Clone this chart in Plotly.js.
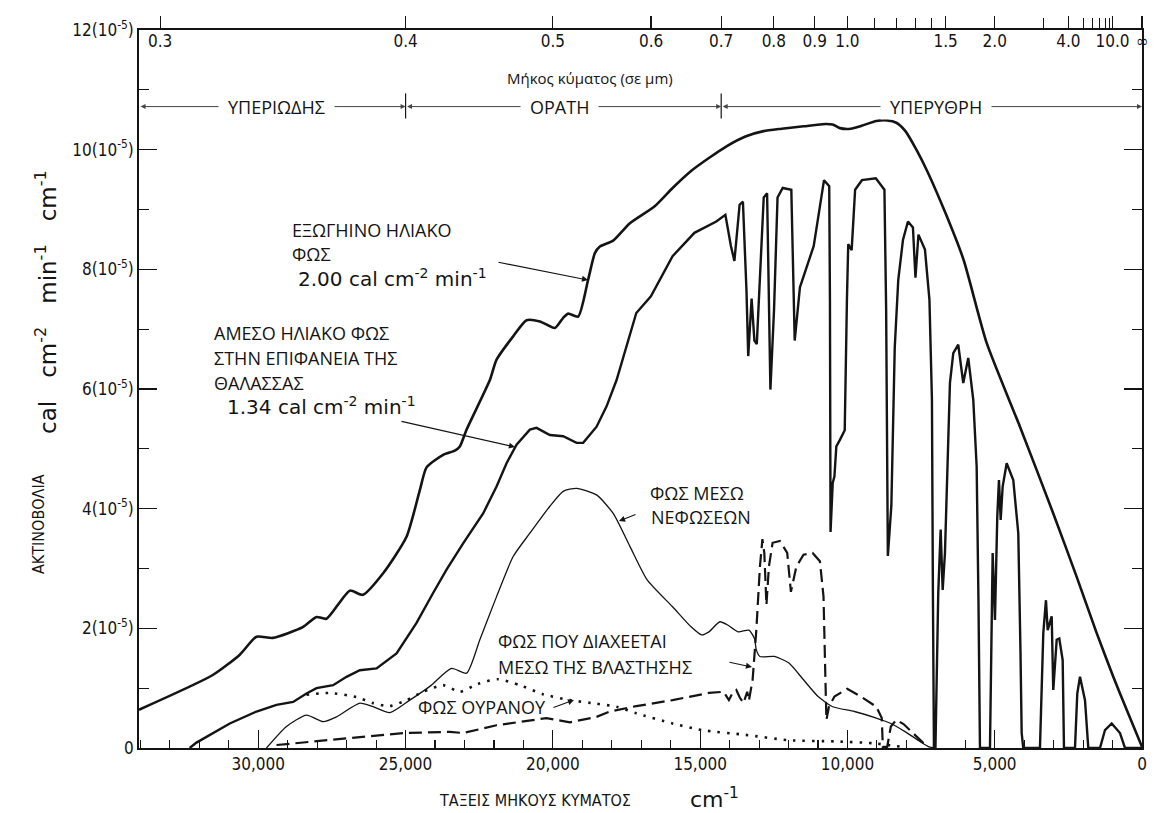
<!DOCTYPE html>
<html>
<head>
<meta charset="utf-8">
<script src="https://cdn.plot.ly/plotly-3.0.1.min.js"></script>
<style>
html,body{margin:0;padding:0;background:#fff}
#chart{width:1166px;height:813px}
</style>
</head>
<body>
<div id="chart"></div>
<script>
// wavenumber (cm^-1) and spectral irradiance in units of 1e-5 cal cm^-2 min^-1 cm^-1
const extraWn = [34050,31545,30628,30061,29508,28489,28024,27684,26893,26452,25762,24968,24516,24289,23725,23328,23158,22931,22139,21912,21348,20893,20441,19932,19650,19480,19141,18801,18574,18404,17952,17385,16554,15936,15317,14703,14092,13463,12849,12231,11490,10747,10503,10255,9885,9514,9019,8649,8340,8031,7660,7290,6672,6058,5273,4143,3012,2217,1538,975,520,0];
const extraVal = [0.64,1.22,1.56,1.86,1.84,2.02,2.19,2.16,2.63,2.56,2.92,3.53,4.31,4.69,4.90,4.97,5.04,5.32,6.15,6.49,6.88,7.15,7.13,7.02,7.19,7.26,7.21,7.83,8.27,8.38,8.48,8.77,9.05,9.36,9.64,9.86,10.06,10.22,10.31,10.35,10.39,10.43,10.42,10.36,10.35,10.40,10.48,10.49,10.45,10.31,10.0,9.64,8.94,8.16,6.77,5.37,3.92,2.86,1.92,1.19,0.64,0.02];

const directWn = [32330,32098,30968,30061,29382,28818,28363,28024,27460,27005,26553,25986,25307,24628,24065,23610,23046,22367,21912,21572,21233,20781,20554,20102,19650,19195,18971,18516,18177,17837,17168,16672,15936,15195,14452,14143,13956,13837,13660,13548,13426,13368,13253,13158,13077,12961,12842,12727,12615,12492,12373,12197,11905,11790,11613,11144,10910,10795,10618,10594,10574,10499,10441,10377,10255,10092,10017,9973,9857,9739,9508,9036,8744,8686,8628,8509,8394,8275,8115,7946,7776,7691,7589,7368,7216,7165,7131,7097,7063,7012,6971,6917,6835,6767,6689,6611,6520,6407,6238,6068,5898,5728,5613,5552,5501,5161,5104,5070,4992,4913,4856,4798,4730,4594,4370,4200,4126,4085,4031,3464,3351,3260,3202,3066,3012,2896,2808,2693,2649,2275,2197,2105,1935,1823,1426,1256,1029,747,577,0];
const directVal = [0,0.09,0.41,0.61,0.72,0.77,0.91,1.00,1.05,1.19,1.30,1.33,1.58,2.09,2.59,2.98,3.42,3.92,4.37,4.76,5.07,5.32,5.35,5.23,5.21,5.10,5.10,5.37,5.71,6.15,7.27,7.55,8.22,8.61,8.80,8.91,8.39,8.14,9.08,9.13,7.63,6.55,7.51,6.81,6.75,7.95,9.20,9.27,5.99,7.32,9.20,9.36,9.33,6.81,7.70,8.39,9.14,9.49,9.39,7.49,3.61,4.43,4.54,5.04,5.15,5.31,7.49,8.42,8.32,9.33,9.49,9.52,9.33,7.32,3.21,4.05,6.69,7.82,8.49,8.80,8.70,7.86,8.58,8.33,7.49,6.07,5.82,2.47,0,0,1.36,2.59,3.65,2.64,3.26,4.70,6.10,6.60,6.74,6.10,6.52,5.82,4.70,2.47,0,0,2.47,3.26,2.14,3.87,4.48,3.81,4.37,4.76,4.48,3.59,1.64,0.25,0,0,1.92,2.47,1.97,2.20,0.97,1.81,1.83,1.47,0,0,0.91,1.19,0.80,0,0,0.30,0.41,0.25,0,0];

const cloudWn = [29722,29043,28363,27800,27345,26553,26102,25535,24856,24177,23440,22931,22479,21912,21348,20781,20102,19650,19195,18516,17952,17385,16798,15936,15318,14947,14703,14329,14081,13711,13345,13158,13093,12971,12479,11986,11491,10995,10503,9762,9019,8526,8031,7538,7233,7000];
const cloudVal = [0,0.36,0.55,0.44,0.52,0.75,0.69,0.59,0.80,1.03,1.33,1.25,1.81,2.53,3.20,3.59,4.04,4.29,4.34,4.23,3.92,3.37,2.81,2.36,2.03,1.89,1.94,2.11,2.06,1.94,1.97,1.83,1.64,1.53,1.53,1.42,1.14,0.86,0.69,0.61,0.50,0.41,0.27,0.11,0.02,0];

const vegWn = [29382,27572,26441,25083,23497,23046,21912,20214,19423,18516,18064,17168,15936,14703,14207,14024,13898,13772,13650,13528,13402,13345,13219,13093,12971,12886,12822,12750,12666,12540,12292,12044,11919,11735,11491,11182,10934,10812,10747,10713,10628,10441,10007,9514,9019,8835,8798,8649,8526,8340,8095,7660,7290];
const vegVal = [0.05,0.13,0.19,0.25,0.27,0.25,0.38,0.50,0.43,0.52,0.61,0.70,0.80,0.92,0.94,0.80,0.92,0.97,0.84,0.75,0.94,0.79,1.14,1.97,3.03,3.49,3.26,2.39,3.03,3.43,3.46,3.26,2.61,3.03,3.23,3.26,3.12,2.53,1.14,0.47,0.69,0.86,0.99,0.85,0.69,0.50,0.02,0.02,0.36,0.47,0.40,0.19,0.02];

const skyWn = [28363,27572,26666,26102,25535,24968,24404,23725,23158,22547,21868,21121,20340,19423,18516,17837,17168,15936,14947,13463,11986,10377,9144,8156];
const skyVal = [0.89,0.92,0.85,0.75,0.70,0.80,0.94,1.05,0.94,1.07,1.15,1.05,0.90,0.80,0.74,0.69,0.58,0.41,0.30,0.22,0.13,0.11,0.08,0.02];

// axis ticks
const bottomTickVals = [30000,25000,20000,15000,10000,5000,0];
const bottomTickText = ['30,000','25,000','20,000','15,000','10,000','5,000','0'];
const yTickVals = [0,2,4,6,8,10,12];
const yTickText = ['0','2(10<sup>-5</sup>)','4(10<sup>-5</sup>)','6(10<sup>-5</sup>)','8(10<sup>-5</sup>)','10(10<sup>-5</sup>)','12(10<sup>-5</sup>)'];
const topWavelengthUm = [0.3,0.4,0.5,0.6,0.7,0.8,0.9,1.0,1.5,2.0,4.0,10.0,Infinity];
const topTickText = ['0.3','0.4','0.5','0.6','0.7','0.8','0.9','1.0','1.5','2.0','4.0','10.0','∞'];
const topMinorWavelengthUm = [1.1,1.2,1.3,1.4,3,5,6,7,8,9];

// regions (wavelength bounds, µm)
const regionNames = ['ΥΠΕΡΙΩΔΗΣ','ΟΡΑΤΗ','ΥΠΕΡΥΘΡΗ'];
const regionBoundsUm = [[0.2937,0.4],[0.4,0.7],[0.7,Infinity]];

const INK = '#141414';
const TICKFONT = '"Liberation Sans Narrow", "DejaVu Sans Condensed", "Arial Narrow", sans-serif';
const LABELFONT = '"Open Sans", "Noto Sans", "DejaVu Sans", sans-serif';
const GEOFONT = '"DejaVu Sans", "Noto Sans", sans-serif';
const toWn = um => (isFinite(um) ? 1e4 / um : 0);
const X_RANGE = [34050, 0];

const PLOT = {l:139, r:1142, t:30, b:748};
const px = v => (v - PLOT.l) / (PLOT.r - PLOT.l);
const py = v => (PLOT.b - v) / (PLOT.b - PLOT.t);

const traces = [
  {type:'scatter', mode:'lines', x:extraWn, y:extraVal, line:{color:INK, width:2.6, shape:'spline', smoothing:0.6}, hoverinfo:'skip'},
  {type:'scatter', mode:'lines', x:directWn, y:directVal, line:{color:INK, width:2.4}, hoverinfo:'skip'},
  {type:'scatter', mode:'lines', x:cloudWn, y:cloudVal, line:{color:INK, width:1.3, shape:'spline', smoothing:0.6}, hoverinfo:'skip'},
  {type:'scatter', mode:'lines', x:vegWn, y:vegVal, line:{color:INK, width:2.2, dash:'13px,6px'}, hoverinfo:'skip'},
  {type:'scatter', mode:'lines', x:skyWn, y:skyVal, xaxis:'x2', line:{color:INK, width:2.6, dash:'2.5px,7px', shape:'spline', smoothing:0.6}, hoverinfo:'skip'}
];

const ann = [];
function txt(text, xpx, ypx, opts) {
  ann.push(Object.assign({xref:'paper', yref:'paper', x:px(xpx), y:py(ypx), text:text, showarrow:false,
    xanchor:'left', yanchor:'middle', font:{family:LABELFONT, size:18, color:INK}}, opts || {}));
}
function arrow(x0, y0, x1, y1) {
  ann.push({xref:'paper', yref:'paper', x:px(x1), y:py(y1), ax:x0 - x1, ay:y0 - y1, text:'',
    showarrow:true, arrowhead:2, arrowsize:1.1, arrowwidth:1.1, arrowcolor:INK});
}

// region arrows
const regionY = 10.72;
const regionCenterPx = [276, 559, 936];
regionNames.forEach((name, i) => {
  const a = toWn(regionBoundsUm[i][0]), b = toWn(regionBoundsUm[i][1]);
  ann.push({xref:'x', yref:'y', axref:'x', ayref:'y', x:b, y:regionY, ax:a, ay:regionY, text:'',
    showarrow:true, arrowhead:2, startarrowhead:2, arrowside:'end+start', arrowsize:1, arrowwidth:1, arrowcolor:'#444'});
});
regionNames.forEach((name, i) => {
  ann.push({xref:'paper', yref:'y', x:px(regionCenterPx[i]), y:regionY, text:'\u2002' + name + '\u2002',
    showarrow:false, xanchor:'center', yanchor:'middle', bgcolor:'#fff', borderpad:0,
    font:{family:LABELFONT, size:18, color:INK}});
});

txt('Μήκος κύματος (σε μm)', 590, 78, {xanchor:'center', font:{family:LABELFONT, size:15, color:INK}});

txt('ΕΞΩΓΗΙΝΟ ΗΛΙΑΚΟ', 290, 230);
txt('ΦΩΣ', 290, 254);
txt('2.00 cal cm<sup>-2</sup> min<sup>-1</sup>', 296, 278, {font:{family:GEOFONT, size:20, color:INK}});
arrow(497, 262, 588, 280);

txt('ΑΜΕΣΟ ΗΛΙΑΚΟ ΦΩΣ', 212, 333);
txt('ΣΤΗΝ ΕΠΙΦΑΝΕΙΑ ΤΗΣ', 212, 358);
txt('ΘΑΛΑΣΣΑΣ', 212, 383);
txt('1.34 cal cm<sup>-2</sup> min<sup>-1</sup>', 225, 406, {font:{family:GEOFONT, size:20, color:INK}});
arrow(400, 421, 515, 447);

txt('ΦΩΣ ΜΕΣΩ', 648, 493);
txt('ΝΕΦΩΣΕΩΝ', 649, 517);
arrow(637, 514, 619, 521);

txt('ΦΩΣ ΠΟΥ ΔΙΑΧΕΕΤΑΙ', 496, 641);
txt('ΜΕΣΩ ΤΗΣ ΒΛΑΣΤΗΣΗΣ', 496, 667);
arrow(728, 662, 752, 667);

txt('ΦΩΣ ΟΥΡΑΝΟΥ', 416, 707);
arrow(552, 708, 574, 700);

// axis titles
txt('cal\u2003cm<sup>-2</sup>\u2003min<sup>-1</sup>\u2003cm<sup>-1</sup>', 46, 302, {xanchor:'center', textangle:-90, font:{family:GEOFONT, size:23, color:INK}});
txt('ΑΚΤΙΝΟΒΟΛΙΑ', 38, 524, {xanchor:'center', textangle:-90, font:{family:TICKFONT, size:16, color:INK}});
txt('ΤΑΞΕΙΣ ΜΗΚΟΥΣ ΚΥΜΑΤΟΣ', 535, 800, {xanchor:'center', font:{family:TICKFONT, size:16, color:INK}});
txt('cm<sup>-1</sup>', 688, 798, {font:{family:GEOFONT, size:22, color:INK}});

const boundaryShapes = [0.4, 0.7].map(um => ({type:'line', xref:'x', yref:'y', x0:toWn(um), x1:toWn(um),
  y0:regionY - 0.2, y1:regionY + 0.22, line:{color:INK, width:1.2}}));

const layout = {
  width:1166, height:813,
  margin:{l:PLOT.l, r:1166 - PLOT.r, t:PLOT.t, b:813 - PLOT.b},
  paper_bgcolor:'#fff', plot_bgcolor:'#fff',
  showlegend:false,
  font:{family:TICKFONT, color:INK, size:17},
  xaxis:{range:X_RANGE, tickmode:'array', tickvals:bottomTickVals, ticktext:bottomTickText,
    ticks:'inside', ticklen:18, tickwidth:1.2, tickcolor:INK, showline:true, linewidth:1.8, linecolor:INK,
    showgrid:false, zeroline:false, mirror:false, tickfont:{family:TICKFONT, size:17, color:INK},
    minor:{tick0:0, dtick:1000, ticks:'inside', ticklen:8, tickwidth:1.1, tickcolor:INK}},
  xaxis2:{overlaying:'x', side:'top', range:X_RANGE, tickmode:'array',
    tickvals:topWavelengthUm.map(toWn), ticktext:topTickText,
    ticks:'outside', ticklen:12, tickwidth:1.2, tickcolor:INK, ticklabelposition:'inside', ticklabeloverflow:'allow',
    ticklabelstandoff:6,
    showline:true, linewidth:1.8, linecolor:INK, showgrid:false, zeroline:false,
    tickfont:{family:TICKFONT, size:17, color:INK},
    minor:{tickmode:'array', tickvals:topMinorWavelengthUm.map(toWn), ticks:'outside', ticklen:10, tickwidth:1.1, tickcolor:INK}},
  yaxis:{range:[0,12], tickmode:'array', tickvals:yTickVals, ticktext:yTickText,
    ticks:'inside', ticklen:18, tickwidth:1.2, tickcolor:INK, showline:true, linewidth:1.8, linecolor:INK,
    mirror:'ticks', showgrid:false, zeroline:false, tickfont:{family:TICKFONT, size:17, color:INK},
    minor:{dtick:1, ticks:'inside', ticklen:10, tickwidth:1.1, tickcolor:INK}},
  annotations:ann,
  shapes:boundaryShapes
};

Plotly.newPlot('chart', traces, layout, {staticPlot:true, displayModeBar:false});
</script>
</body>
</html>
